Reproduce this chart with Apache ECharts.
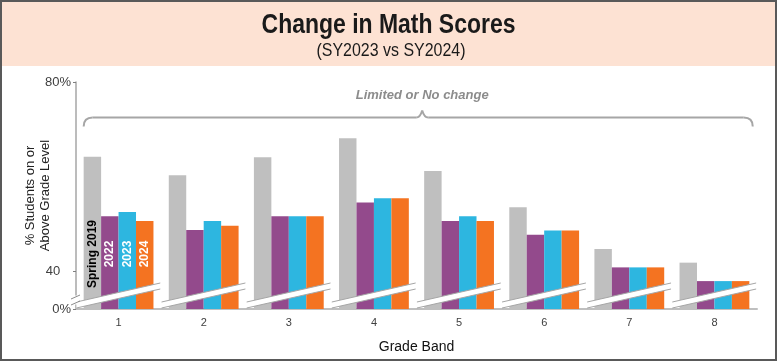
<!DOCTYPE html>
<html><head><meta charset="utf-8">
<script src="https://cdn.jsdelivr.net/npm/echarts@6/dist/echarts.min.js"></script>
<style>html,body{margin:0;padding:0;background:#fff}#c{width:777px;height:361px}</style>
</head><body><div id="c"></div>
<script>
const categories = ['1','2','3','4','5','6','7','8'];
const seriesNames = ['Spring 2019','2022','2023','2024'];
const spring2019 = [64.2,60.3,64.1,68.1,61.2,53.5,44.7,41.8];
const sy2022 = [51.6,48.7,51.6,54.5,50.6,47.7,40.8,37.9];
const sy2023 = [52.5,50.6,51.6,55.4,51.6,48.6,40.8,37.9];
const sy2024 = [50.6,49.6,51.6,55.4,50.6,48.6,40.8,37.9];
const yTickValues = [0, 40, 80];
const yTickLabels = {0:'0%', 40:'40', 80:'80%'};
const titleText = 'Change in Math Scores';
const subtitleText = '(SY2023 vs SY2024)';
const braceText = 'Limited or No change';

const colors = ['#bfbfbf','#934a8c','#2db6e0','#f47321'];
const labelColors = ['#000','#fff','#fff','#fff'];
const allValues = [spring2019, sy2022, sy2023, sy2024];
const FONT = '"Liberation Sans", Arial, sans-serif';

const chart = echarts.init(document.getElementById('c'), null, {renderer:'canvas'});

const barSeries = allValues.map((vals, s) => ({
  type: 'bar',
  name: seriesNames[s],
  barGap: '0%',
  barCategoryGap: '18%',
  itemStyle: { color: colors[s] },
  emphasis: { disabled: true },
  data: vals.map((v, i) => i === 0 ? {
    value: v,
    label: {
      show: true, formatter: seriesNames[s], position: 'insideBottom', distance: 55,
      rotate: 90, align: 'center', verticalAlign: 'middle',
      color: labelColors[s], fontFamily: FONT, fontWeight: 'bold', fontSize: 12
    }
  } : v)
}));

const breakSeries = {
  type: 'custom',
  z: 10,
  silent: true,
  clip: false,
  data: categories.map(c => [c]),
  renderItem(params, api) {
    const c = api.coord([api.value(0), 0]);
    const w = api.size([1, 0])[0];
    const x0 = c[0] - w * 0.495, x1 = c[0] + w * 0.49;
    const y = c[1];
    const children = [
      {type:'polygon', shape:{points:[[x0,y-7],[x1,y-26],[x1,y-20],[x0,y-1]]}, style:{fill:'#fff'}},
      {type:'line', shape:{x1:x0,y1:y-7,x2:x1,y2:y-26}, style:{stroke:'#a6a6a6', lineWidth:1}},
      {type:'line', shape:{x1:x0,y1:y-1,x2:x1,y2:y-20}, style:{stroke:'#a6a6a6', lineWidth:1}}
    ];
    if (params.dataIndex === 0) {
      const ax = params.coordSys.x;
      children.push(
        {type:'rect', shape:{x:ax-2,y:y-13,width:4,height:7}, style:{fill:'#fff'}},
        {type:'line', shape:{x1:ax-5,y1:y-10,x2:ax+4,y2:y-14}, style:{stroke:'#8c8c8c', lineWidth:1}},
        {type:'line', shape:{x1:ax-5,y1:y-4,x2:ax+4,y2:y-8}, style:{stroke:'#8c8c8c', lineWidth:1}}
      );
    }
    return {type:'group', children};
  }
};

const option = {
  animation: false,
  backgroundColor: '#fff',
  grid: { left: 76, right: 20, top: 82, bottom: 52, containLabel: false, outerBoundsMode: 'none' },
  xAxis: {
    type: 'category',
    data: categories,
    axisLine: { lineStyle: { color: '#bfbfbf', width: 2 } },
    axisTick: { show: false },
    axisLabel: { color: '#404040', fontSize: 11, fontFamily: FONT, margin: 8 },
    name: 'Grade Band', nameLocation: 'middle', nameGap: 31, nameMoveOverlap: false,
    nameTextStyle: { color: '#111', fontSize: 14, fontFamily: FONT }
  },
  yAxis: {
    type: 'value',
    min: 0, max: 80, interval: 40,
    breaks: [{ start: 1, end: 35, gap: 2 }],
    breakArea: { show: false },
    splitLine: { show: false },
    axisLine: { show: true, lineStyle: { color: '#a6a6a6', width: 1.5 } },
    axisTick: { show: true, length: 3, lineStyle: { color: '#7f7f7f' }, customValues: yTickValues },
    axisLabel: {
      color: '#404040', fontSize: 13, fontFamily: FONT, margin: 5,
      customValues: yTickValues,
      formatter: v => (v === 40 ? '40   ' : (yTickLabels[v] !== undefined ? yTickLabels[v] : ''))
    },
    name: '% Students on or\nAbove Grade Level', nameLocation: 'middle', nameGap: 23,
    nameMoveOverlap: false,
    nameTextStyle: { color: '#222', fontSize: 13, fontFamily: FONT, lineHeight: 15 }
  },
  series: [...barSeries, breakSeries]
};
chart.setOption(option);

// annotations: title band, border, brace
const pL = chart.convertToPixel({xAxisIndex:0}, categories[0]);
const pR = chart.convertToPixel({xAxisIndex:0}, categories[categories.length-1]);
const catW = (pR - pL) / (categories.length - 1);
const xl = pL - catW * 0.41, xr = pR + catW * 0.45;
const xc = (xl + xr) / 2 + 4;
const by = 117.5;
const braceStyle = {stroke:'#a6a6a6', lineWidth:2, fill:null};

chart.setOption({ graphic: [
  { type:'rect', z:-1, shape:{x:1,y:1,width:775,height:65}, style:{fill:'#fde2d3'} },
  { type:'rect', z:100, shape:{x:1,y:1,width:775,height:359}, style:{fill:null, stroke:'#595959', lineWidth:2} },
  { type:'text', x:388.5, y:25, scaleX:0.82, style:{text:titleText, font:'bold 28px ' + FONT, fill:'#1a1a1a', textAlign:'center', textVerticalAlign:'middle'} },
  { type:'text', x:391, y:51, scaleX:0.84, style:{text:subtitleText, font:'19px ' + FONT, fill:'#1a1a1a', textAlign:'center', textVerticalAlign:'middle'} },
  { type:'bezierCurve', shape:{x1:xl,y1:by+9,x2:xl+9,y2:by,cpx1:xl,cpy1:by}, style:braceStyle },
  { type:'line', shape:{x1:xl+9,y1:by,x2:xc-6,y2:by}, style:braceStyle },
  { type:'bezierCurve', shape:{x1:xc-6,y1:by,x2:xc,y2:by-7,cpx1:xc-2,cpy1:by}, style:braceStyle },
  { type:'bezierCurve', shape:{x1:xc,y1:by-7,x2:xc+6,y2:by,cpx1:xc+2,cpy1:by}, style:braceStyle },
  { type:'line', shape:{x1:xc+6,y1:by,x2:xr-9,y2:by}, style:braceStyle },
  { type:'bezierCurve', shape:{x1:xr-9,y1:by,x2:xr,y2:by+9,cpx1:xr,cpy1:by}, style:braceStyle },
  { type:'text', x:xc, y:95, style:{text:braceText, font:'italic bold 13px ' + FONT, fill:'#8c8c8c', textAlign:'center', textVerticalAlign:'middle'} }
]});
</script></body></html>
